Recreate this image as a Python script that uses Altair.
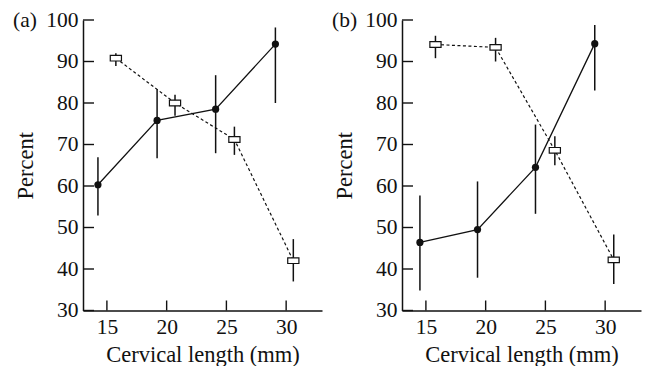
import altair as alt
import pandas as pd

# ---- data ----
# Panel (a)
a_circ_x = [14.25, 19.2, 24.1, 29.1]
a_circ_y = [60.3, 75.8, 78.5, 94.2]
a_circ_lo = [52.9, 66.7, 67.9, 80.0]
a_circ_hi = [66.9, 83.3, 86.7, 98.2]
a_sq_x = [15.75, 20.7, 25.67, 30.6]
a_sq_y = [90.8, 80.0, 71.2, 42.0]
a_sq_lo = [88.9, 76.9, 67.5, 37.0]
a_sq_hi = [92.0, 82.0, 74.3, 47.2]

# Panel (b)
b_circ_x = [14.5, 19.32, 24.17, 29.13]
b_circ_y = [46.4, 49.5, 64.5, 94.3]
b_circ_lo = [34.8, 37.9, 53.3, 83.0]
b_circ_hi = [57.7, 61.1, 74.8, 98.8]
b_sq_x = [15.8, 20.83, 25.79, 30.72]
b_sq_y = [94.1, 93.4, 68.6, 42.2]
b_sq_lo = [90.8, 90.0, 65.0, 36.4]
b_sq_hi = [96.2, 95.7, 72.0, 48.3]

x_ticks = [15, 20, 25, 30]
y_ticks = [30, 40, 50, 60, 70, 80, 90, 100]
x_title = "Cervical length (mm)"
y_title = "Percent"

FONT = "Liberation Serif"
FS = 21.5
TFS = 22.5
W = 239
H = 290.5
INK = "#111111"

RECT = "M-1,-0.5H1V0.5H-1Z"


def panel(label, cx, cy, clo, chi, sx, sy, slo, shi):
    circ = pd.DataFrame({"x": cx, "y": cy, "lo": clo, "hi": chi})
    sq = pd.DataFrame({"x": sx, "y": sy, "lo": slo, "hi": shi})
    xs = alt.Scale(domain=[13, 33], nice=False, zero=False)
    ys = alt.Scale(domain=[30, 100], nice=False, zero=False)
    xax = alt.Axis(values=x_ticks, ticks=False, grid=False, labelPadding=6,
                   title=x_title, titlePadding=23, titleBaseline="alphabetic",
                   labelFlush=False)
    yax = alt.Axis(values=y_ticks, ticks=False, grid=False, labelPadding=5,
                   title=y_title, titlePadding=8.5, labelFlush=False)

    line_c = alt.Chart(circ).mark_line(color=INK, strokeWidth=1.3).encode(
        x=alt.X("x:Q", scale=xs, axis=xax),
        y=alt.Y("y:Q", scale=ys, axis=yax),
    )
    err_c = alt.Chart(circ).mark_rule(color=INK, strokeWidth=1.5).encode(
        x=alt.X("x:Q", scale=xs), y=alt.Y("lo:Q", scale=ys), y2="hi:Q"
    )
    pts_c = alt.Chart(circ).mark_circle(color=INK, size=52, opacity=1).encode(
        x=alt.X("x:Q", scale=xs), y=alt.Y("y:Q", scale=ys)
    )
    line_s = alt.Chart(sq).mark_line(color=INK, strokeWidth=1.2,
                                     strokeDash=[3, 2.5]).encode(
        x=alt.X("x:Q", scale=xs), y=alt.Y("y:Q", scale=ys)
    )
    err_s = alt.Chart(sq).mark_rule(color=INK, strokeWidth=1.5).encode(
        x=alt.X("x:Q", scale=xs), y=alt.Y("lo:Q", scale=ys), y2="hi:Q"
    )
    pts_s = alt.Chart(sq).mark_point(shape=RECT, filled=True, fill="white",
                                     stroke=INK, strokeWidth=1.2, size=125,
                                     opacity=1).encode(
        x=alt.X("x:Q", scale=xs), y=alt.Y("y:Q", scale=ys)
    )
    yt = alt.Chart(pd.DataFrame({"v": y_ticks})).mark_rule(
        color=INK, strokeWidth=1.4).encode(
        y=alt.Y("v:Q", scale=ys), x=alt.value(0), x2=alt.value(11)
    )
    xt = alt.Chart(pd.DataFrame({"v": x_ticks})).mark_rule(
        color=INK, strokeWidth=1.4).encode(
        x=alt.X("v:Q", scale=xs), y=alt.value(H), y2=alt.value(H - 10)
    )
    lab = alt.Chart(pd.DataFrame({"t": [label]})).mark_text(
        align="left", baseline="alphabetic", font=FONT, fontSize=FS,
        color=INK).encode(x=alt.value(-70), y=alt.value(7), text="t:N")

    return alt.layer(xt, yt, line_s, line_c, err_c, err_s, pts_c, pts_s,
                     lab).properties(width=W, height=H)


pa = panel("(a)", a_circ_x, a_circ_y, a_circ_lo, a_circ_hi,
           a_sq_x, a_sq_y, a_sq_lo, a_sq_hi)
pb = panel("(b)", b_circ_x, b_circ_y, b_circ_lo, b_circ_hi,
           b_sq_x, b_sq_y, b_sq_lo, b_sq_hi)

chart = alt.hconcat(pa, pb, spacing=80, bounds="flush").properties(
    padding={"left": 13, "top": 9, "right": 4, "bottom": 0},
    background="white",
).configure_view(stroke=None).configure_axis(
    domainColor=INK, domainWidth=1.5,
    labelFont=FONT, labelFontSize=FS, labelColor=INK,
    titleFont=FONT, titleFontSize=TFS, titleFontWeight="normal", titleColor=INK,
)

chart.save("out.html", embed_options={"renderer": "svg", "actions": False})
